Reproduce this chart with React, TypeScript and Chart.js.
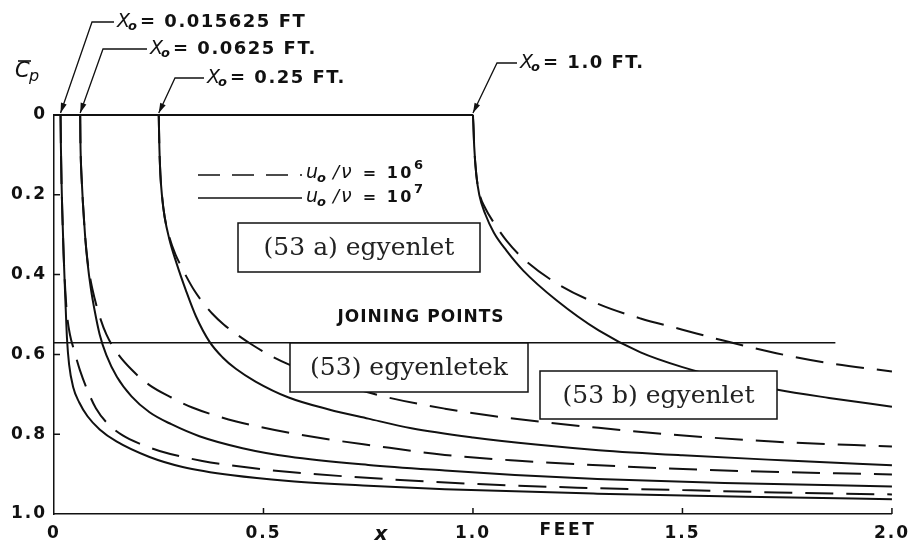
import React, { useEffect, useRef } from "react";
import { Chart, registerables } from "chart.js";

Chart.register(...registerables);

// Axis ticks
const xTickValues = [0, 0.5, 1.0, 1.5, 2.0];
const xTickLabels = ["0", "0.5", "1.0", "1.5", "2.0"];
const yTickValues = [0, 0.2, 0.4, 0.6, 0.8, 1.0];
const yTickLabels = ["0", "0.2", "0.4", "0.6", "0.8", "1.0"];

// Starting positions x0 (ft) and their labels
const startPositions = [0.015625, 0.0625, 0.25, 1.0];
const startLabels = ["0.015625 FT", "0.0625 FT.", "0.25 FT.", "1.0 FT."];

// Joining points line
const joiningCp = 0.571;
const joiningX = [0, 1.865];

// x0 = 0.015625 ft, u0/nu = 1e7 (solid) and 1e6 (dashed)
const solid1X = [0.015625, 0.0165, 0.018, 0.02, 0.023, 0.027, 0.031, 0.036, 0.046, 0.06, 0.08, 0.109, 0.149, 0.228, 0.307, 0.426, 0.56, 0.75, 0.933, 1.297, 1.724, 2.0];
const solid1Cp = [0, 0.08, 0.17, 0.25, 0.35, 0.46, 0.56, 0.625, 0.683, 0.72, 0.755, 0.788, 0.818, 0.857, 0.882, 0.903, 0.917, 0.929, 0.938, 0.949, 0.958, 0.963];
const dashed1X = [0.015625, 0.0165, 0.018, 0.02, 0.023, 0.027, 0.031, 0.038, 0.048, 0.062, 0.08, 0.1, 0.125, 0.164, 0.21, 0.252, 0.354, 0.473, 0.6, 0.8, 1.012, 1.249, 1.5, 1.724, 2.0];
const dashed1Cp = [0, 0.08, 0.17, 0.25, 0.35, 0.44, 0.5, 0.55, 0.59, 0.64, 0.69, 0.735, 0.77, 0.803, 0.826, 0.842, 0.867, 0.885, 0.898, 0.913, 0.925, 0.934, 0.94, 0.946, 0.951];

// x0 = 0.0625 ft
const solid2X = [0.0625, 0.063, 0.064, 0.066, 0.069, 0.074, 0.08, 0.088, 0.097, 0.109, 0.125, 0.15, 0.185, 0.228, 0.28, 0.347, 0.45, 0.56, 0.75, 0.933, 1.1, 1.297, 1.6, 2.0];
const solid2Cp = [0, 0.06, 0.11, 0.16, 0.22, 0.3, 0.37, 0.435, 0.49, 0.55, 0.602, 0.656, 0.705, 0.745, 0.775, 0.805, 0.835, 0.856, 0.877, 0.891, 0.902, 0.912, 0.922, 0.931];
const dashed2X = [0.0625, 0.063, 0.064, 0.066, 0.069, 0.074, 0.08, 0.088, 0.097, 0.109, 0.125, 0.15, 0.185, 0.228, 0.28, 0.33, 0.435, 0.53, 0.65, 0.758, 0.933, 1.1, 1.3, 1.6, 2.0];
const dashed2Cp = [0, 0.06, 0.11, 0.16, 0.22, 0.3, 0.365, 0.418, 0.46, 0.505, 0.55, 0.595, 0.638, 0.677, 0.708, 0.733, 0.768, 0.79, 0.812, 0.828, 0.852, 0.866, 0.878, 0.891, 0.901];

// x0 = 0.25 ft
const solid3X = [0.25, 0.2515, 0.254, 0.258, 0.264, 0.275, 0.292, 0.315, 0.339, 0.371, 0.402, 0.434, 0.481, 0.56, 0.656, 0.75, 0.853, 1.0, 1.15, 1.3, 1.5, 1.75, 2.0];
const solid3Cp = [0, 0.08, 0.15, 0.205, 0.255, 0.31, 0.37, 0.44, 0.505, 0.568, 0.607, 0.636, 0.668, 0.708, 0.738, 0.761, 0.785, 0.808, 0.826, 0.84, 0.853, 0.866, 0.878];
const dashed3X = [0.25, 0.2515, 0.254, 0.258, 0.264, 0.275, 0.29, 0.304, 0.316, 0.335, 0.354, 0.378, 0.405, 0.435, 0.47, 0.52, 0.56, 0.65, 0.774, 0.933, 1.052, 1.171, 1.3, 1.487, 1.724, 2.0];
const dashed3Cp = [0, 0.08, 0.15, 0.205, 0.255, 0.305, 0.35, 0.38, 0.405, 0.44, 0.468, 0.498, 0.525, 0.549, 0.574, 0.605, 0.625, 0.662, 0.702, 0.736, 0.755, 0.77, 0.784, 0.802, 0.819, 0.831];

// x0 = 1.0 ft (the leading zero segment forms the Cp = 0 line)
const solid4X = [0, 1.0, 1.003, 1.008, 1.015, 1.03, 1.05, 1.08, 1.12, 1.2, 1.3, 1.4, 1.5, 1.6, 1.724, 1.85, 2.0];
const solid4Cp = [0, 0, 0.08, 0.15, 0.2, 0.25, 0.295, 0.34, 0.39, 0.465, 0.54, 0.595, 0.632, 0.66, 0.688, 0.709, 0.731];
const dashed4X = [1.0, 1.003, 1.008, 1.015, 1.03, 1.05, 1.08, 1.12, 1.2, 1.3, 1.4, 1.5, 1.6, 1.724, 1.85, 2.0];
const dashed4Cp = [0, 0.08, 0.15, 0.195, 0.235, 0.27, 0.315, 0.36, 0.422, 0.474, 0.51, 0.538, 0.566, 0.597, 0.622, 0.643];

const INK = "#111";
const SANS = "'DejaVu Sans', sans-serif";
const SERIF = "'DejaVu Serif', serif";

const toPoints = (xs: number[], ys: number[]) => xs.map((x, i) => ({ x, y: ys[i] }));

function curve(xs: number[], ys: number[], dashed: boolean) {
  return {
    data: toPoints(xs, ys),
    borderColor: INK,
    borderWidth: 2,
    borderDash: dashed ? [28, 13] : [],
    pointRadius: 0,
    fill: false,
    cubicInterpolationMode: "monotone" as const,
    clip: 6,
  };
}

function drawArrowLeader(ctx: CanvasRenderingContext2D, x1: number, y1: number, bx: number, tipX: number, tipY: number) {
  ctx.save();
  ctx.strokeStyle = INK;
  ctx.fillStyle = INK;
  ctx.lineWidth = 1.3;
  ctx.beginPath();
  ctx.moveTo(x1, y1);
  ctx.lineTo(bx, y1);
  ctx.lineTo(tipX, tipY);
  ctx.stroke();
  const ang = Math.atan2(tipY - y1, tipX - bx);
  const len = 10;
  const half = 3;
  const ux = Math.cos(ang), uy = Math.sin(ang);
  ctx.beginPath();
  ctx.moveTo(tipX, tipY);
  ctx.lineTo(tipX - ux * len - uy * half, tipY - uy * len + ux * half);
  ctx.lineTo(tipX - ux * len + uy * half, tipY - uy * len - ux * half);
  ctx.closePath();
  ctx.fill();
  ctx.restore();
}

function drawX0Label(ctx: CanvasRenderingContext2D, x: number, cy: number, value: string) {
  ctx.save();
  ctx.fillStyle = INK;
  ctx.textBaseline = "middle";
  ctx.textAlign = "left";
  (ctx as any).letterSpacing = "0px";
  ctx.font = `italic 19px ${SANS}`;
  ctx.fillText("X", x, cy);
  const w = ctx.measureText("X").width;
  ctx.font = `italic bold 13px ${SANS}`;
  ctx.fillText("o", x + w - 2, cy + 5);
  (ctx as any).letterSpacing = "1.5px";
  ctx.font = `bold 18px ${SANS}`;
  ctx.fillText("= " + value, x + w + 10, cy);
  ctx.restore();
}

function drawLegendText(ctx: CanvasRenderingContext2D, x: number, cy: number, exp: string) {
  ctx.save();
  ctx.fillStyle = INK;
  ctx.textBaseline = "middle";
  ctx.textAlign = "left";
  (ctx as any).letterSpacing = "0px";
  let cx = x;
  ctx.font = `italic 19px ${SANS}`;
  ctx.fillText("u", cx, cy);
  cx += ctx.measureText("u").width;
  ctx.font = `italic bold 13px ${SANS}`;
  ctx.fillText("o", cx - 1, cy + 6);
  cx += ctx.measureText("o").width + 6;
  ctx.font = `italic 18px ${SANS}`;
  ctx.fillText("/", cx, cy);
  cx += ctx.measureText("/").width + 2;
  ctx.font = `italic 19px ${SANS}`;
  ctx.fillText("ν", cx, cy);
  cx += ctx.measureText("ν").width + 11;
  ctx.font = `bold 16px ${SANS}`;
  (ctx as any).letterSpacing = "2.5px";
  ctx.fillText("= 10", cx, cy + 1);
  cx += ctx.measureText("= 10").width;
  (ctx as any).letterSpacing = "0px";
  ctx.font = `bold 13px ${SANS}`;
  ctx.fillText(exp, cx, cy - 7);
  ctx.restore();
}

function drawBox(ctx: CanvasRenderingContext2D, l: number, t: number, r: number, b: number, text: string) {
  ctx.save();
  ctx.fillStyle = "#fff";
  ctx.fillRect(l, t, r - l, b - t);
  ctx.strokeStyle = INK;
  ctx.lineWidth = 1.5;
  ctx.strokeRect(l, t, r - l, b - t);
  ctx.fillStyle = "#222";
  (ctx as any).letterSpacing = "0px";
  ctx.font = `25px ${SERIF}`;
  ctx.textAlign = "center";
  ctx.textBaseline = "middle";
  ctx.fillText(text, (l + r) / 2, (t + b) / 2 + 1);
  ctx.restore();
}

const decorPlugin = {
  id: "decor",
  beforeDraw(chart: any) {
    (chart.ctx as any).letterSpacing = "2px";
  },
  afterDatasetsDraw(chart: any) {
    const ctx: CanvasRenderingContext2D = chart.ctx;
    (ctx as any).letterSpacing = "0px";
    drawBox(ctx, 238, 223, 480, 272, "(53 a) egyenlet");
    drawBox(ctx, 290, 343, 528, 392, "(53) egyenletek");
    drawBox(ctx, 540, 371, 777, 419, "(53 b) egyenlet");
  },
  afterDraw(chart: any) {
    const ctx: CanvasRenderingContext2D = chart.ctx;
    (ctx as any).letterSpacing = "0px";
    const xs = chart.scales.x;
    const ys = chart.scales.y;
    const area = chart.chartArea;

    // inward tick marks
    ctx.save();
    ctx.strokeStyle = INK;
    ctx.lineWidth = 1.5;
    ctx.beginPath();
    yTickValues.slice(1, -1).forEach((v) => {
      const py = ys.getPixelForValue(v);
      ctx.moveTo(area.left, py);
      ctx.lineTo(area.left + 6, py);
    });
    xTickValues.slice(1).forEach((v) => {
      const px = xs.getPixelForValue(v);
      ctx.moveTo(px, area.bottom);
      ctx.lineTo(px, area.bottom - 6);
    });
    ctx.stroke();
    ctx.restore();

    // axis captions
    ctx.save();
    ctx.fillStyle = INK;
    ctx.textBaseline = "middle";
    ctx.textAlign = "left";
    ctx.font = `italic 21px ${SANS}`;
    ctx.fillText("C", 15, 72);
    ctx.font = `italic 16px ${SANS}`;
    ctx.fillText("p", 29, 77);
    ctx.strokeStyle = INK;
    ctx.lineWidth = 1.6;
    ctx.beginPath();
    ctx.moveTo(18, 61);
    ctx.lineTo(31, 61);
    ctx.stroke();

    ctx.font = `italic bold 20px ${SANS}`;
    ctx.textAlign = "center";
    ctx.fillText("x", 381, 535);
    (ctx as any).letterSpacing = "2.7px";
    ctx.font = `bold 17px ${SANS}`;
    ctx.fillText("FEET", 568, 531);
    (ctx as any).letterSpacing = "1px";
    ctx.fillText("JOINING POINTS", 421, 318);
    (ctx as any).letterSpacing = "0px";
    ctx.restore();

    // legend
    ctx.save();
    ctx.strokeStyle = INK;
    ctx.lineWidth = 1.5;
    ctx.setLineDash([22, 12]);
    ctx.beginPath();
    ctx.moveTo(198, 175);
    ctx.lineTo(302, 175);
    ctx.stroke();
    ctx.setLineDash([]);
    ctx.beginPath();
    ctx.moveTo(198, 198);
    ctx.lineTo(302, 198);
    ctx.stroke();
    ctx.restore();
    drawLegendText(ctx, 306, 173, "6");
    drawLegendText(ctx, 306, 197, "7");

    // x0 labels with leaders
    const leaders = [
      { tx: 117, ty: 22, bx: 92 },
      { tx: 150, ty: 49, bx: 103 },
      { tx: 207, ty: 78, bx: 175 },
      { tx: 520, ty: 63, bx: 497 },
    ];
    const tipY = ys.getPixelForValue(0) - 2;
    startPositions.forEach((x0, i) => {
      const L = leaders[i];
      drawArrowLeader(ctx, L.tx - 3, L.ty, L.bx, xs.getPixelForValue(x0), tipY);
      drawX0Label(ctx, L.tx, L.ty, startLabels[i]);
    });
  },
};

export default function App() {
  const canvasRef = useRef<HTMLCanvasElement | null>(null);

  useEffect(() => {
    const canvas = canvasRef.current;
    if (!canvas) return;
    const chart = new Chart(canvas, {
      type: "line",
      data: {
        datasets: [
          curve(solid4X, solid4Cp, false),
          curve(dashed4X, dashed4Cp, true),
          curve(solid3X, solid3Cp, false),
          curve(dashed3X, dashed3Cp, true),
          curve(solid2X, solid2Cp, false),
          curve(dashed2X, dashed2Cp, true),
          curve(solid1X, solid1Cp, false),
          curve(dashed1X, dashed1Cp, true),
          {
            data: joiningX.map((x) => ({ x, y: joiningCp })),
            borderColor: INK,
            borderWidth: 1.5,
            pointRadius: 0,
            fill: false,
            tension: 0,
          },
        ] as any,
      },
      options: {
        responsive: false,
        devicePixelRatio: 1,
        animation: false,
        events: [],
        layout: { padding: { left: 8, top: 115, right: 20, bottom: 0 } },
        plugins: { legend: { display: false }, tooltip: { enabled: false } },
        scales: {
          x: {
            type: "linear",
            min: 0,
            max: 2,
            afterBuildTicks: (s: any) => {
              s.ticks = xTickValues.map((v) => ({ value: v }));
            },
            afterFit: (s: any) => {
              s.height = 29;
            },
            grid: { display: false, drawTicks: false },
            border: { display: true, color: INK, width: 1.5 },
            ticks: {
              color: INK,
              font: { family: SANS, size: 17, weight: "bold" },
              padding: 9,
              maxRotation: 0,
              autoSkip: false,
              callback: (_v: any, i: number) => xTickLabels[i],
            },
          },
          y: {
            type: "linear",
            reverse: true,
            min: 0,
            max: 1,
            afterBuildTicks: (s: any) => {
              s.ticks = yTickValues.map((v) => ({ value: v }));
            },
            afterFit: (s: any) => {
              s.width = 46;
            },
            grid: { display: false, drawTicks: false },
            border: { display: true, color: INK, width: 1.5 },
            ticks: {
              color: INK,
              font: { family: SANS, size: 17, weight: "bold" },
              padding: 7,
              autoSkip: false,
              callback: (_v: any, i: number) => yTickLabels[i],
            },
          },
        },
      } as any,
      plugins: [decorPlugin],
    });
    return () => chart.destroy();
  }, []);

  return (
    <div style={{ position: "absolute", left: 0, top: 0, width: 916, height: 543, background: "#fff" }}>
      <canvas ref={canvasRef} width={916} height={543} style={{ display: "block" }} />
    </div>
  );
}
